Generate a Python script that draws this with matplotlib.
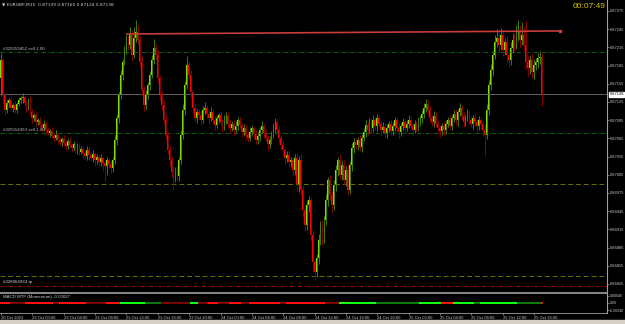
import numpy as np
import matplotlib
matplotlib.use('Agg')
import matplotlib.pyplot as plt
from matplotlib.patches import Rectangle

plt.rcParams['font.family'] = ['Liberation Sans', 'DejaVu Sans']

# EURGBP M15 candles, prices in points (1e-5)
open0 = 87165
closes = [
    87194, 87136, 87112, 87123, 87128, 87115, 87120, 87112, 87122, 87128,
    87131, 87133, 87123, 87115, 87128, 87108, 87098, 87103, 87092, 87095,
    87087, 87082, 87089, 87079, 87074, 87077, 87069, 87066, 87071, 87062,
    87059, 87064, 87057, 87052, 87061, 87054, 87049, 87056, 87046, 87051,
    87043, 87047, 87041, 87036, 87046, 87038, 87033, 87039, 87029, 87034,
    87026, 87033, 87024, 87019, 87029, 87023, 87016, 87029, 87062, 87098,
    87136, 87169, 87191, 87211, 87227, 87219, 87235, 87202, 87230, 87240,
    87227, 87191, 87145, 87120, 87136, 87153, 87169, 87194, 87214, 87202,
    87165, 87136, 87120, 87095, 87071, 87046, 87029, 87010, 87000, 87013,
    87003, 87029, 87071, 87112, 87153, 87186, 87169, 87141, 87115, 87098,
    87108, 87103, 87095, 87112, 87115, 87105, 87098, 87108, 87095, 87087,
    87098, 87103, 87092, 87084, 87095, 87102, 87089, 87082, 87089, 87079,
    87085, 87095, 87087, 87075, 87082, 87071, 87066, 87075, 87082, 87072,
    87062, 87069, 87079, 87085, 87074, 87066, 87056, 87062, 87071, 87082,
    87092, 87079, 87066, 87054, 87046, 87033, 87038, 87026, 87029, 87013,
    87033, 86988, 87029, 86980, 86947, 86922, 86955, 86963, 86906, 86861,
    86845, 86868, 86898, 86922, 86901, 86930, 86963, 86996, 86972, 86955,
    86988, 87013, 87029, 87005, 87021, 86996, 87013, 86980, 87021, 87049,
    87059, 87054, 87062, 87051, 87066, 87075, 87087, 87079, 87092, 87082,
    87095, 87085, 87098, 87089, 87079, 87084, 87074, 87082, 87089, 87077,
    87085, 87095, 87082, 87075, 87085, 87092, 87082, 87089, 87095, 87085,
    87079, 87089, 87082, 87092, 87098, 87105, 87115, 87122, 87112, 87098,
    87092, 87102, 87089, 87082, 87077, 87085, 87079, 87089, 87095, 87085,
    87098, 87105, 87095, 87108, 87115, 87102, 87092, 87098, 87105, 87095,
    87089, 87098, 87092, 87085, 87095, 87089, 87079, 87071, 87112, 87153,
    87178, 87202, 87224, 87230, 87219, 87235, 87211, 87224, 87202, 87194,
    87214, 87227, 87219, 87234, 87240, 87227, 87235, 87219, 87191, 87181,
    87194, 87174, 87186, 87191, 87197, 87199, 87138,
]
upper_wick = [
    12, 4, 6, 5, 3, 7, 4, 6, 3, 5,
    4, 6, 3, 5, 4, 7, 5, 3, 6, 4,
    5, 3, 7, 4, 5, 3, 6, 4, 8, 3,
    5, 4, 6, 3, 5, 7, 4, 5, 3, 6,
    4, 6, 5, 3, 7, 4, 5, 6, 3, 5,
    4, 7, 3, 5, 6, 4, 5, 6, 8, 7,
    6, 8, 5, 7, 10, 6, 14, 8, 18, 20,
    12, 7, 9, 6, 8, 5, 7, 9, 14, 6,
    8, 5, 7, 6, 8, 5, 7, 6, 9, 5,
    7, 6, 8, 9, 7, 15, 6, 8, 5, 7,
    6, 5, 8, 7, 10, 5, 6, 8, 5, 7,
    6, 4, 7, 5, 8, 6, 4, 7, 5, 6,
    8, 5, 6, 4, 7, 5, 6, 8, 5, 4,
    6, 7, 5, 8, 4, 6, 5, 7, 6, 9,
    7, 5, 6, 4, 7, 5, 6, 8, 5, 7,
    6, 8, 7, 10, 6, 8, 9, 7, 6, 8,
    5, 7, 9, 6, 8, 7, 10, 6, 8, 7,
    9, 8, 6, 10, 7, 8, 6, 9, 7, 8,
    6, 7, 5, 8, 6, 7, 9, 5, 7, 6,
    8, 5, 7, 6, 5, 8, 6, 7, 5, 6,
    7, 6, 5, 8, 6, 7, 5, 6, 8, 5,
    6, 7, 5, 8, 6, 7, 9, 8, 6, 7,
    5, 8, 6, 7, 5, 6, 8, 7, 5, 9,
    6, 7, 8, 6, 9, 5, 7, 6, 8, 5,
    7, 6, 8, 5, 7, 6, 5, 8, 9, 8,
    10, 7, 12, 15, 8, 12, 9, 7, 10, 8,
    9, 12, 10, 18, 20, 12, 22, 14, 40, 10,
    8, 12, 9, 7, 8, 10, 6,
]
lower_wick = [
    30, 14, 8, 5, 6, 4, 7, 5, 6, 4,
    5, 7, 4, 6, 3, 5, 7, 4, 6, 5,
    4, 6, 5, 7, 4, 6, 3, 5, 4, 6,
    5, 7, 4, 6, 5, 3, 6, 4, 5, 7,
    6, 4, 8, 5, 6, 9, 5, 7, 10, 6,
    8, 6, 12, 25, 14, 9, 8, 7, 6, 8,
    7, 6, 8, 5, 7, 9, 6, 8, 5, 7,
    6, 9, 8, 10, 7, 6, 8, 5, 7, 6,
    8, 7, 9, 6, 8, 7, 10, 9, 20, 7,
    9, 8, 6, 7, 8, 6, 7, 9, 8, 6,
    7, 6, 8, 5, 7, 6, 9, 5, 7, 8,
    5, 7, 6, 8, 5, 6, 7, 9, 5, 8,
    6, 7, 5, 8, 6, 9, 7, 5, 6, 8,
    7, 6, 8, 5, 9, 6, 10, 7, 6, 5,
    8, 7, 9, 6, 8, 10, 7, 9, 8, 10,
    8, 10, 12, 9, 11, 10, 8, 12, 10, 16,
    13, 9, 10, 8, 12, 9, 8, 10, 9, 11,
    8, 9, 10, 7, 9, 8, 10, 8, 7, 9,
    8, 6, 9, 7, 8, 6, 7, 9, 6, 8,
    7, 6, 8, 5, 9, 6, 7, 8, 6, 7,
    6, 8, 7, 9, 6, 7, 8, 5, 7, 6,
    8, 6, 7, 5, 6, 8, 7, 6, 9, 7,
    6, 8, 5, 7, 9, 6, 8, 7, 6, 5,
    7, 6, 8, 9, 6, 7, 8, 6, 5, 7,
    6, 8, 7, 9, 6, 8, 10, 35, 7, 9,
    8, 10, 7, 9, 12, 8, 10, 9, 11, 12,
    8, 9, 10, 7, 9, 11, 8, 10, 12, 14,
    10, 9, 12, 8, 10, 9, 20,
]

# MACD MTF colour runs (length in bars, state)
macd_len = [5, 8, 14, 3, 14, 10, 7, 13, 8, 15, 4, 5, 5, 6, 6, 4, 16, 3, 20, 7,
            19, 22, 11, 6, 11, 3, 19, 12, 1]
macd_state = ['R', 'r', 'R', 'r', 'R', 'r', 'R', 'G', 'g', 'r', 'G', 'r', 'R', 'r', 'R', 'r', 'R', 'r', 'R', 'r',
              'G', 'g', 'G', 'R', 'G', 'g', 'G', 'g', 'R']

time_labels = ['20 Oct 2023', '23 Oct 00:00', '23 Oct 04:00', '23 Oct 08:00', '23 Oct 12:00',
               '23 Oct 16:00', '23 Oct 20:00', '24 Oct 00:00', '24 Oct 04:00', '24 Oct 08:00',
               '24 Oct 12:00', '24 Oct 16:00', '24 Oct 20:00', '25 Oct 00:00', '25 Oct 04:00',
               '25 Oct 08:00', '25 Oct 12:00', '25 Oct 16:00']
price_ticks = [86825, 86855, 86885, 86915, 86945, 86975, 87005, 87035, 87065, 87095,
               87125, 87155, 87185, 87215, 87245, 87275]

orders = [(87207, '#325559452 sell 1.00'), (87074, '#325554363 sell 1.00')]
levels = [86990, 86838]
tp_level = (86822, '#328864963 tp')
trend = [(64.3, 87237), (285.2, 87242)]
last_price = 87138

S = 1e-5
c = np.array(closes) * S
o = np.concatenate([[open0 * S], c[:-1]])
hi = np.maximum(o, c) + np.array(upper_wick) * S
lo = np.minimum(o, c) - np.array(lower_wick) * S
x = np.arange(len(c))
up = c >= o

fig = plt.figure(figsize=(6.25, 3.24), dpi=100, facecolor='black')
ax = fig.add_axes([0, 32 / 324, 607 / 625, 292 / 324], facecolor='black')
ax.set_xlim(-0.51, 309.2)
ax.set_ylim(86811.8 * S, 87293 * S)

grey = '#a0a0a0'
# order / level lines
for p, lbl in orders:
    ax.axhline(p * S, color='#0a7a0a', lw=0.6, ls=(0, (5, 2, 1, 2)))
    ax.text(1, p * S + 2 * S, lbl, color='#bdbdbd', fontsize=3.2, va='bottom')
for p in levels:
    ax.axhline(p * S, color='#6e6e00', lw=0.7, ls=(0, (5, 3)))
ax.axhline(tp_level[0] * S, color='#b00000', lw=0.7, ls=(0, (4, 2, 1, 2)))
ax.text(1, tp_level[0] * S + 3 * S, tp_level[1], color='#d0d0d0', fontsize=3.2, va='bottom')
ax.axhline(last_price * S, color='#6e6e6e', lw=0.6)

# candles
wick_col = np.where(up, '#3f7d00', '#8b0000')
body_col = np.where(up, '#7fe000', '#ff0000')
ax.vlines(x, lo, hi, colors=wick_col, lw=0.7)
h = np.abs(c - o)
h = np.where(h < 1e-6, 1e-6, h)
ax.bar(x, h, bottom=np.minimum(o, c), width=0.9, color=body_col, linewidth=0)

# trend line
ax.plot([trend[0][0], trend[1][0]], [trend[0][1] * S, trend[1][1] * S], color='#c83c3c', lw=1.2)
ax.plot([trend[1][0]], [trend[1][1] * S], marker='s', ms=1.5, color='#c83c3c')

ax.yaxis.tick_right()
ax.set_yticks(np.array(price_ticks) * S)
ax.set_yticklabels(['%.5f' % (p * S) for p in price_ticks])
ax.tick_params(axis='y', colors=grey, labelsize=2.9, length=1.5, width=0.5, pad=0.5, labelcolor='#c8c8c8')
ax.set_xticks([])
for s in ['top', 'left', 'bottom']:
    ax.spines[s].set_visible(False)
ax.spines['right'].set_color(grey)
ax.spines['right'].set_linewidth(0.8)

# current price box
ax.text(1.004, last_price * S, '%.5f' % (last_price * S), transform=ax.get_yaxis_transform(),
        fontsize=2.9, color='black', va='center', ha='left',
        bbox=dict(boxstyle='square,pad=0.12', fc='white', ec='white'))

ax.text(0.004, 0.986, '\u25bc EURGBP,M15  0.87139 0.87160 0.87124 0.87138', transform=ax.transAxes,
        color='#d0d0d0', fontsize=3.2, va='center', family=['DejaVu Sans'])
ax.text(0.998, 0.979, '00:07:49', transform=ax.transAxes, color='#d8c800', fontsize=6,
        ha='right', va='center')

# MACD sub panel
ax2 = fig.add_axes([0, 11 / 324, 607 / 625, 20 / 324], facecolor='black')
ax2.set_xlim(-0.51, 309.2)
ax2.set_ylim(-0.000657, 0.000657)
col_map = {'R': '#ff1010', 'r': '#7a0000', 'G': '#10ff10', 'g': '#0a7a0a'}
mcols = []
for n, st in zip(macd_len, macd_state):
    mcols += [col_map[st]] * n
ax2.scatter(x, np.zeros(len(x)), c=mcols, marker='s', s=2.2, linewidths=0)
ax2.text(0.005, 0.8, 'MACD MTF (Momentum) -0.00027', transform=ax2.transAxes, color='#c8c8c8',
         fontsize=3.2, va='center')
ax2.yaxis.tick_right()
ax2.set_yticks([0.00046, 0.0, -0.00046])
ax2.set_yticklabels(['0.00046', '0.00', '-0.00046'])
ax2.tick_params(axis='y', colors=grey, labelsize=2.6, length=1.5, width=0.5, pad=0.5, labelcolor='#c8c8c8')
ax2.set_xticks(np.arange(len(time_labels)) * 16)
ax2.set_xticklabels(time_labels)
ax2.tick_params(axis='x', colors=grey, labelsize=3.0, length=1.5, width=0.5, pad=0.8, labelcolor='#c8c8c8')
for lbl in ax2.get_xticklabels():
    lbl.set_ha('left')
ax2.spines['top'].set_color(grey)
ax2.spines['top'].set_linewidth(1.2)
ax2.spines['right'].set_color(grey)
ax2.spines['bottom'].set_color(grey)
ax2.spines['bottom'].set_linewidth(0.6)
ax2.spines['left'].set_visible(False)

fig.patches.append(Rectangle((0, 0), 1, 4 / 324, transform=fig.transFigure, color='#d4d0c8'))

fig.savefig('out.png', dpi=100, facecolor='black')
